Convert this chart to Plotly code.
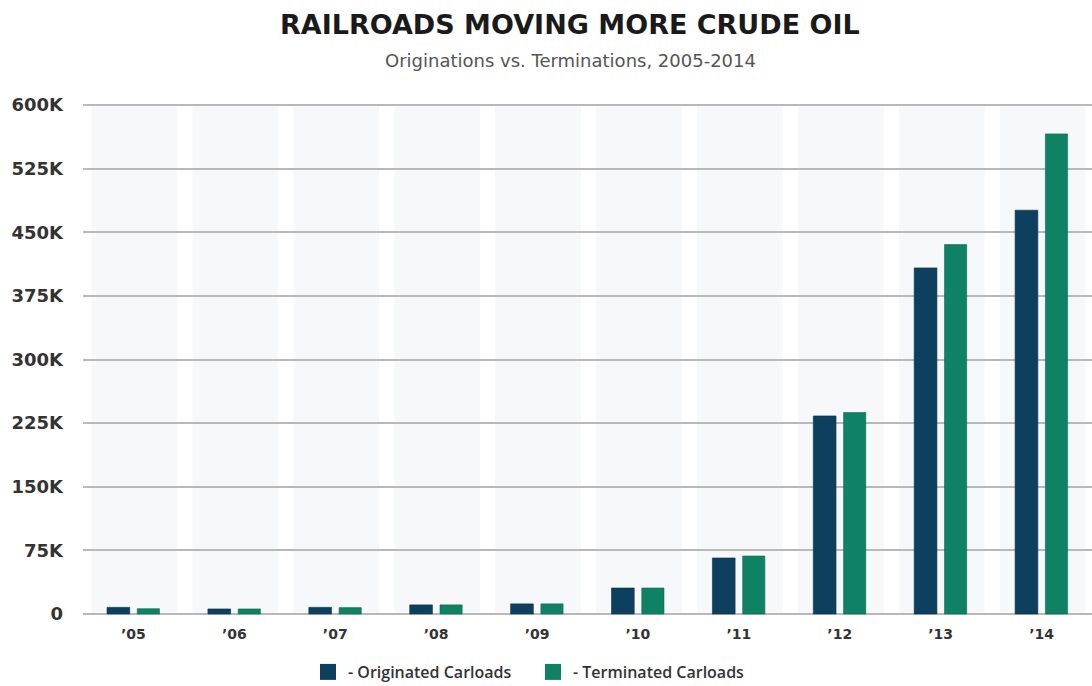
import plotly.graph_objects as go

years = ["’05", "’06", "’07", "’08", "’09", "’10", "’11", "’12", "’13", "’14"]
originated = [7800, 5900, 7800, 10700, 11900, 30600, 66000, 233500, 408000, 476000]
terminated = [6200, 5900, 7500, 10700, 11900, 30600, 68300, 237500, 435500, 566000]
y_tickvals = [0, 75000, 150000, 225000, 300000, 375000, 450000, 525000, 600000]
y_ticktext = ["0", "75K", "150K", "225K", "300K", "375K", "450K", "525K", "600K"]

DARK = "#0d3f5f"
GREEN = "#0f8164"
FONT = "DejaVu Sans"

W, H = 1092, 686
ML, MR, MT, MB = 83, 0, 103, 70
pw = W - ML - MR
ph = H - MT - MB

fig = go.Figure()
xs = list(range(len(years)))
fig.add_trace(go.Bar(x=xs, y=originated, name="- Originated Carloads", marker_color=DARK,
                     width=0.225, offset=-0.262, showlegend=False,
                     marker_line=dict(color="#0a3350", width=0.6)))
fig.add_trace(go.Bar(x=xs, y=terminated, name="- Terminated Carloads", marker_color=GREEN,
                     width=0.22, offset=0.038, showlegend=False,
                     marker_line=dict(color="#0c6d54", width=0.6)))
# legend entries
fig.add_trace(go.Scatter(x=[None], y=[None], mode="markers", name="- Originated Carloads",
                         marker=dict(symbol="square", size=18, color=DARK)))
fig.add_trace(go.Scatter(x=[None], y=[None], mode="markers", name="- Terminated Carloads",
                         marker=dict(symbol="square", size=18, color=GREEN)))

shapes = []
for i in xs:
    shapes.append(dict(type="rect", xref="x", yref="y", x0=i - 0.415, x1=i + 0.435,
                       y0=0, y1=600000, fillcolor="#f7f8fa", line_width=0, layer="below"))

cx = (570 - ML) / pw
fig.update_layout(
    width=W, height=H, margin=dict(l=ML, r=MR, t=MT, b=MB, autoexpand=False),
    paper_bgcolor="white", plot_bgcolor="white",
    barmode="overlay", shapes=shapes,
    font=dict(family=FONT, color="#333333"),
    xaxis=dict(range=[-0.5, 9.5], tickmode="array", tickvals=xs, ticktext=years,
               showgrid=False, zeroline=False, showline=False, ticks="",
               tickfont=dict(family=FONT, size=14, color="#333333", weight="bold"),
               ticklabelstandoff=8),
    yaxis=dict(range=[-2400, 602400], tickmode="array", tickvals=y_tickvals, ticktext=y_ticktext,
               showgrid=True, gridcolor="#b8b8b8", gridwidth=2, zeroline=False,
               showline=False, ticks="",
               tickfont=dict(family=FONT, size=18, color="#333333", weight="bold"),
               ticklabelstandoff=19),
    legend=dict(orientation="h", xanchor="center", yanchor="bottom",
                x=(533 - ML) / pw, y=-(686 + 3 - (H - MB)) / ph, entrywidth=180,
                font=dict(family="Open Sans", size=16, color="#333333", weight=600),
                itemsizing="trace", bgcolor="rgba(0,0,0,0)"),
    annotations=[
        dict(text="<b>RAILROADS MOVING MORE CRUDE OIL</b>", xref="paper", yref="paper",
             x=cx, xanchor="center", y=1 + (MT - 24) / ph, yanchor="middle",
             showarrow=False, font=dict(family=FONT, size=27, color="#1a1a1a")),
        dict(text="Originations vs. Terminations, 2005-2014", xref="paper", yref="paper",
             x=cx, xanchor="center", y=1 + (MT - 60) / ph, yanchor="middle",
             showarrow=False, font=dict(family=FONT, size=18, color="#555555")),
    ],
)

fig.write_html("out.html")
